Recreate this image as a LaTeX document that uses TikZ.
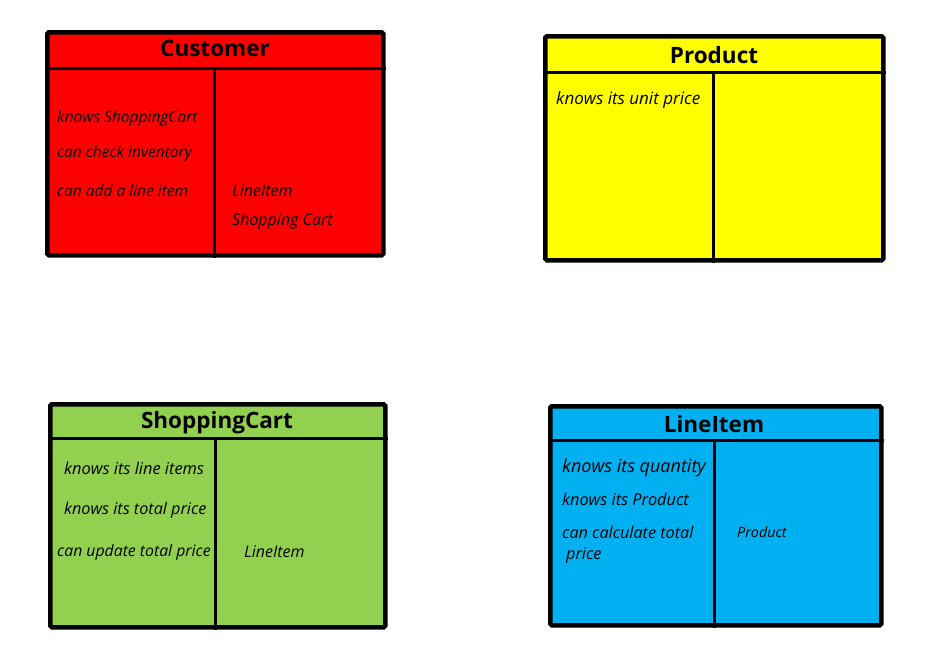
\documentclass[tikz,border=0pt]{standalone}
\usepackage{fontspec}
\setmainfont{Open Sans}
\definecolor{cred}{HTML}{FF0000}
\definecolor{cyellow}{HTML}{FFFF00}
\definecolor{cgreen}{HTML}{92D050}
\definecolor{cblue}{HTML}{00B0F0}
\begin{document}
\begin{tikzpicture}[x=1pt,y=-1pt,
  card/.style={draw=black,line width=4.5pt,rounded corners=1.5pt,anchor=north west,inner sep=0pt},
  sep/.style={line width=3pt},
  title/.style={font=\fontsize{22.5}{26}\selectfont\bfseries,anchor=center,inner sep=0pt},
  resp/.style={font=\fontsize{16}{18}\selectfont\itshape,anchor=west,inner sep=0pt,yshift=-2pt}]
\useasboundingbox[fill=white] (0,0) rectangle (948,662);
% Customer
\node[card,fill=cred,minimum width=336pt,minimum height=223pt] (cust) at (45,30) {};
\coordinate (custh) at (43,68);
\draw[sep] (cust.west |- custh) -- (cust.east |- custh);
\coordinate (custd) at (214,68);
\draw[sep] (custd) -- (custd |- cust.south);
\node[title] (custt) at (215,48) {Customer};
\node[resp,font=\fontsize{15.5}{18}\selectfont\itshape] (c1) at (57,116) {knows ShoppingCart};
\node[resp,font=\fontsize{15.5}{18}\selectfont\itshape] (c2) at (57,151) {can check inventory};
\node[resp,font=\fontsize{15.5}{18}\selectfont\itshape] (c3) at (57,189) {can add a line item};
\node[resp] (c4) at (232,189) {LineItem};
\node[resp] (c5) at (232,219) {Shopping Cart};
% Product
\node[card,fill=cyellow,minimum width=338pt,minimum height=224pt] (prod) at (543,34) {};
\coordinate (prodh) at (541,72);
\draw[sep] (prod.west |- prodh) -- (prod.east |- prodh);
\coordinate (prodd) at (713,72);
\draw[sep] (prodd) -- (prodd |- prod.south);
\node[title] (prodt) at (714,55) {Product};
\node[resp,font=\fontsize{17}{19}\selectfont\itshape] (p1) at (556,98) {knows its unit price};
% ShoppingCart
\node[card,fill=cgreen,minimum width=335pt,minimum height=223pt] (cart) at (48,402) {};
\coordinate (carth) at (46,438);
\draw[sep] (cart.west |- carth) -- (cart.east |- carth);
\coordinate (cartd) at (215,438);
\draw[sep] (cartd) -- (cartd |- cart.south);
\node[title] (cartt) at (217,423) {ShoppingCart};
\node[resp,font=\fontsize{16.4}{18}\selectfont\itshape] (s1) at (64,466) {knows its line items};
\node[resp,font=\fontsize{16.2}{18}\selectfont\itshape] (s2) at (64,508) {knows its total price};
\node[resp,font=\fontsize{15.8}{18}\selectfont\itshape] (s3) at (57,550) {can update total price};
\node[resp] (s4) at (244,550) {LineItem};
% LineItem
\node[card,fill=cblue,minimum width=331pt,minimum height=219pt] (line) at (548,404) {};
\coordinate (lineh) at (546,440);
\draw[sep] (line.west |- lineh) -- (line.east |- lineh);
\coordinate (lined) at (714,440);
\draw[sep] (lined) -- (lined |- line.south);
\node[title] (linet) at (714,424) {LineItem};
\node[resp,font=\fontsize{18}{20}\selectfont\itshape] (l1) at (562,466) {knows its quantity};
\node[resp,font=\fontsize{16.3}{18}\selectfont\itshape] (l2) at (562,497) {knows its Product};
\node[resp,font=\fontsize{16.2}{18}\selectfont\itshape] (l3) at (562,530) {can calculate total};
\node[resp,font=\fontsize{16.2}{18}\selectfont\itshape] (l4) at (566,553) {price};
\node[resp,font=\fontsize{14.3}{16}\selectfont\itshape] (l5) at (737,530) {Product};
\end{tikzpicture}
\end{document}
